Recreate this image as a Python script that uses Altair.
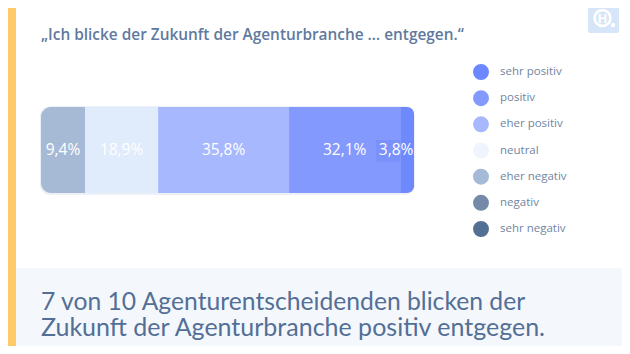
import altair as alt
import pandas as pd

# --- values
segments = ["eher negativ", "neutral", "eher positiv", "positiv", "sehr positiv"]
drawn_share = [11.8, 19.6, 35.1, 29.8, 3.7]   # drawn segment widths, % of bar length
value_labels = ["9,4%", "18,9%", "35,8%", "32,1%", "3,8%"]
bar_colors = ["#A6BAD5", "#E0EBFB", "#A8B8FE", "#8399FD", "#6E89FE"]

legend_labels = ["sehr positiv", "positiv", "eher positiv", "neutral",
                 "eher negativ", "negativ", "sehr negativ"]
legend_colors = ["#6C87FF", "#8399FD", "#A8B8FE", "#EFF4FD",
                 "#A5BAD6", "#748AA8", "#546F94"]

title_text = "„Ich blicke der Zukunft der Agenturbranche … entgegen.“"
headline = ["7 von 10 Agenturentscheidenden blicken der",
            "Zukunft der Agenturbranche positiv entgegen."]

TEXT = "#536F96"
W, H = 614, 338

start, acc = [], 0.0
for s in drawn_share:
    start.append(acc)
    acc += s
bars = pd.DataFrame({
    "segment": segments, "start": start,
    "end": [a + b for a, b in zip(start, drawn_share)],
    "mid": [a + b / 2 for a, b in zip(start, drawn_share)],
    "label": value_labels, "row": ["a"] * len(segments),
})
legend_df = pd.DataFrame({"name": legend_labels})
one = pd.DataFrame({"a": [0]})

x_scale = alt.Scale(domain=[0, 100], range=[33, 406])
y_scale = alt.Scale(domain=["a"], range=[99, 185], paddingInner=0, paddingOuter=0)
bar_color = alt.Color("segment:N", scale=alt.Scale(domain=segments, range=bar_colors), legend=None)
leg_y = alt.Scale(domain=legend_labels, range=[64, 221], padding=0)


def box(x, x2, y, y2, color, **kw):
    return alt.Chart(one).mark_rect(color=color, **kw).encode(
        x=alt.value(x), x2=alt.value(x2), y=alt.value(y), y2=alt.value(y2))


def txt(s, x, y, **kw):
    return alt.Chart(pd.DataFrame({"t": [s]})).mark_text(**kw).encode(
        x=alt.value(x), y=alt.value(y), text="t:N")


def segs(names, **kw):
    return alt.Chart(bars).transform_filter(
        alt.FieldOneOfPredicate(field="segment", oneOf=names)
    ).mark_bar(**kw).encode(
        x=alt.X("start:Q", scale=x_scale, axis=None),
        x2="end:Q",
        y=alt.Y("row:N", scale=y_scale, axis=None),
        color=bar_color,
    )


def seg_labels(names, **kw):
    return alt.Chart(bars).transform_filter(
        alt.FieldOneOfPredicate(field="segment", oneOf=names)
    ).mark_text(color="white", font="Open Sans", fontSize=15.5, **kw).encode(
        x=alt.X("mid:Q", scale=x_scale, axis=None),
        y=alt.Y("row:N", scale=y_scale, axis=None),
        text="label:N",
    )


bg = box(0, W, 260, H, "#F4F7FC")
stripe = box(0, 8, 0, H, "#FFCB69")
logo = box(580, 611, -6, 25, "#D6E5F7", cornerRadius=2)
ring = alt.Chart(one).mark_point(shape="circle", size=250, filled=False, color="white",
                                 strokeWidth=2.6, opacity=1).encode(
    x=alt.value(594.5), y=alt.value(10))
dot = alt.Chart(one).mark_point(shape="circle", size=20, filled=True, color="white",
                                opacity=1).encode(x=alt.value(605), y=alt.value(17))
logo_h = txt("H", 594.5, 10.5, font="Open Sans", fontSize=13, fontWeight=700, color="white",
             align="center", baseline="middle")

title = txt(title_text, 33, 32, font="Open Sans", fontSize=15.4, fontWeight=600,
            color="#5F7A9E", align="left", baseline="alphabetic")

shadow = box(32, 407, 98, 187, "#EDF1F7", cornerRadius=10)

middle = segments[1:-1]
bar_layers = [
    shadow,
    segs(segments[:1], cornerRadiusTopLeft=10, cornerRadiusBottomLeft=10),
    segs(middle, cornerRadius=0),
    box(368, 392, 132, 154, "#7A90FB"),
    segs(segments[-1:], cornerRadiusTopRight=10, cornerRadiusBottomRight=10),
    seg_labels(segments[:-1]),
    seg_labels(segments[-1:], dx=-11),
]

legend_pts = alt.Chart(legend_df).mark_point(shape="circle", size=254, filled=True, opacity=1).encode(
    x=alt.value(473),
    y=alt.Y("name:N", scale=leg_y, axis=None, sort=legend_labels),
    color=alt.Color("name:N", scale=alt.Scale(domain=legend_labels, range=legend_colors), legend=None),
)
legend_txt = alt.Chart(legend_df).mark_text(
    align="left", baseline="middle", font="Open Sans", fontSize=11.5, color="#71859F"
).encode(
    x=alt.value(492),
    y=alt.Y("name:N", scale=leg_y, axis=None, sort=legend_labels),
    text="name:N",
)

head1 = txt(headline[0], 33, 302, font="Lato", fontSize=24.7, color=TEXT, align="left", baseline="alphabetic")
head2 = txt(headline[1], 33, 328, font="Lato", fontSize=25, color=TEXT, align="left", baseline="alphabetic")

chart = alt.layer(
    bg, stripe, logo, ring, dot, logo_h, title, *bar_layers, legend_pts, legend_txt, head1, head2
).resolve_scale(color="independent", y="independent", x="independent").properties(
    width=W, height=H, padding=0, autosize=alt.AutoSizeParams(type="none")
).configure_view(stroke=None)

chart.save("out.html", embed_options={"renderer": "svg", "actions": False})
